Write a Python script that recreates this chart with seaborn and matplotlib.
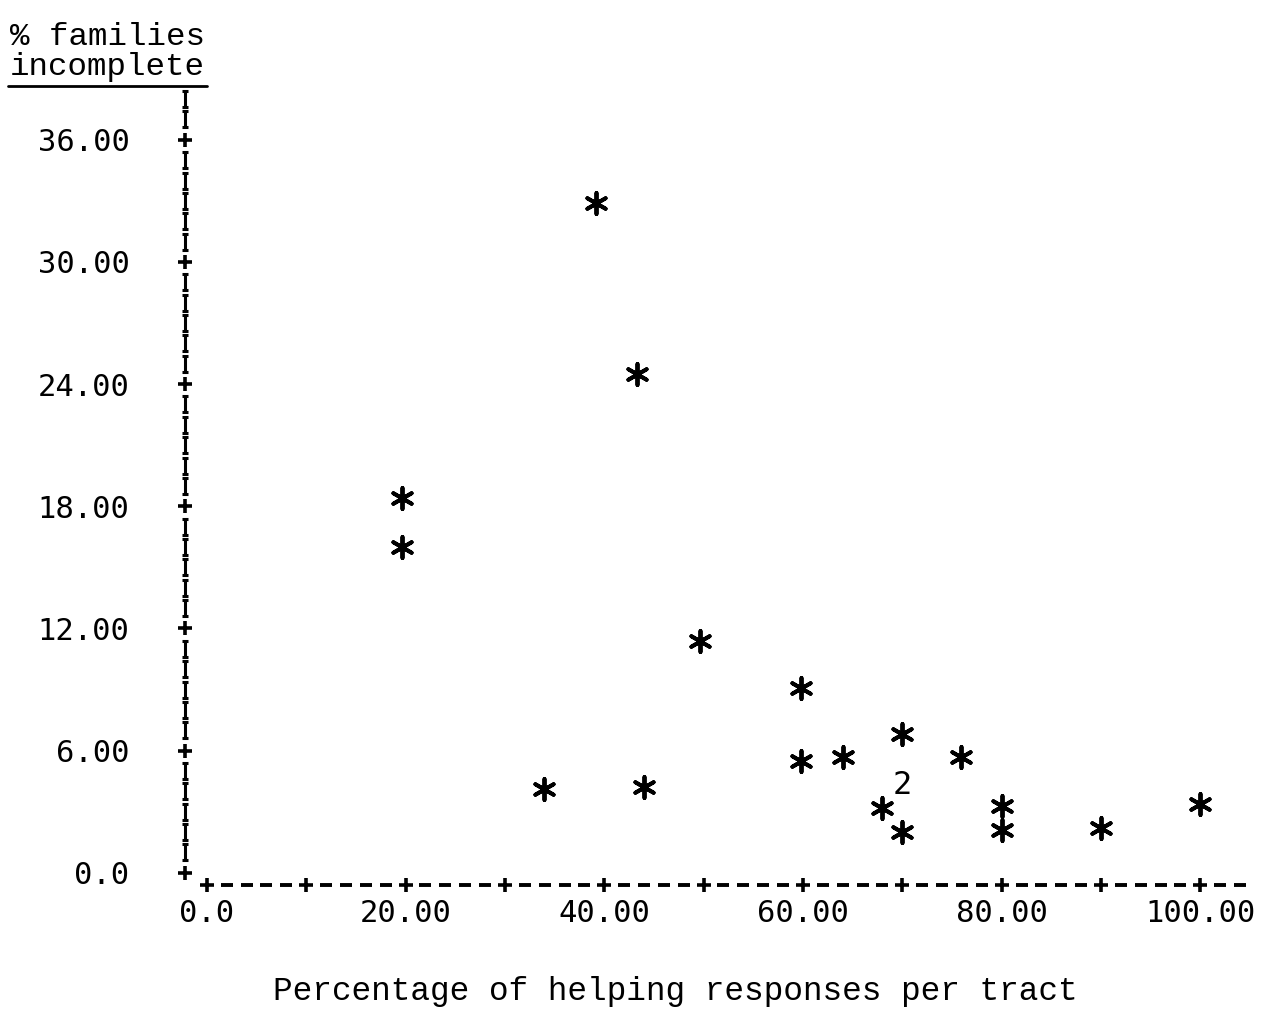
import matplotlib
matplotlib.use("Agg")
import matplotlib.pyplot as plt
import matplotlib.transforms as mtransforms
from matplotlib.lines import Line2D
from matplotlib.path import Path
import seaborn as sns
import pandas as pd

# ---- data ----
helping_pct = [39.2, 43.3, 19.6, 19.6, 49.6, 59.8, 59.8, 64.0, 70.0, 75.9,
               33.9, 44.0, 68.0, 70.0, 80.0, 80.0, 90.0, 100.0]
families_incomplete = [32.9, 24.5, 18.4, 16.0, 11.4, 9.1, 5.5, 5.7, 6.8, 5.7,
                       4.1, 4.2, 3.2, 2.0, 3.3, 2.1, 2.2, 3.4]
# coincident points printed as a digit
multi_x = [70.0]
multi_y = [4.3]
multi_n = [2]

x_ticks = [0, 20, 40, 60, 80, 100]
x_tick_labels = ["0.0", "20.00", "40.00", "60.00", "80.00", "100.00"]
y_ticks = [0, 6, 12, 18, 24, 30, 36]
y_tick_labels = ["0.0", "6.00", "12.00", "18.00", "24.00", "30.00", "36.00"]

df = pd.DataFrame({"x": helping_pct, "y": families_incomplete})

sns.set_theme(style="white")
plt.rcParams["font.family"] = ["DejaVu Sans Mono", "DejaVu Sans"]

fig = plt.figure(figsize=(12.62, 10.16), dpi=100)
ax = fig.add_axes([185 / 1262, 1 - 885 / 1016, (1250 - 185) / 1262, (885 - 95) / 1016])
ax.set_xlim(-2.2, 105.0)
ax.set_ylim(-0.6, 38.2)

sns.scatterplot(data=df, x="x", y="y", ax=ax, marker=(6, 2, 0), s=230,
                color="black", linewidth=2.8, legend=False, zorder=3)
for mx, my, mn in zip(multi_x, multi_y, multi_n):
    ax.text(mx, my, str(mn), ha="center", va="center", fontsize=23,
            family="DejaVu Sans Mono", color="black", zorder=3)

# typewriter-style axes
for s in ax.spines.values():
    s.set_visible(False)
ax.grid(False)
ax.tick_params(length=0)

# custom "I" glyph marker (serifed bar)
i_marker = Path(
    [(-0.42, 1.0), (0.42, 1.0), (0.0, 1.0), (0.0, -1.0), (-0.42, -1.0), (0.42, -1.0)],
    [Path.MOVETO, Path.LINETO, Path.MOVETO, Path.LINETO, Path.MOVETO, Path.LINETO],
)

ytrans = mtransforms.blended_transform_factory(ax.transAxes, ax.transData)
y_rows = list(range(0, 39))
y_plus = [v for v in y_rows if v % 6 == 0]
y_bars = [v for v in y_rows if v % 6 != 0]
ax.plot([0.0] * len(y_bars), y_bars, linestyle="none", marker=i_marker,
        markersize=11, markeredgewidth=2.2, color="black", transform=ytrans,
        clip_on=False)
ax.plot([0.0] * len(y_plus), y_plus, linestyle="none", marker="+",
        markersize=10, markeredgewidth=2.6, color="black", transform=ytrans,
        clip_on=False)

xtrans = mtransforms.blended_transform_factory(ax.transData, ax.transAxes)
x_cols = list(range(0, 105, 2))
x_plus = [v for v in x_cols if v % 10 == 0]
x_dash = [v for v in x_cols if v % 10 != 0]
ax.plot(x_dash, [0.0] * len(x_dash), linestyle="none", marker="_",
        markersize=8, markeredgewidth=2.8, color="black", transform=xtrans,
        clip_on=False)
ax.plot(x_plus, [0.0] * len(x_plus), linestyle="none", marker="+",
        markersize=10, markeredgewidth=2.6, color="black", transform=xtrans,
        clip_on=False)

ax.set_xticks(x_ticks)
ax.set_xticklabels(x_tick_labels, fontsize=22, family="DejaVu Sans Mono",
                   color="black")
ax.set_yticks(y_ticks)
ax.set_yticklabels(y_tick_labels, fontsize=22, family="DejaVu Sans Mono",
                   color="black")
ax.tick_params(axis="y", pad=40)
ax.tick_params(axis="x", pad=10)
ax.set_xlabel("")
ax.set_ylabel("")

# axis titles
fig.text(10 / 1262, 1 - 45 / 1016, "% families", fontsize=23.4,
         family="Liberation Mono", ha="left", va="baseline", color="black")
fig.text(10 / 1262, 1 - 75 / 1016, "incomplete", fontsize=23.4,
         family="Liberation Mono", ha="left", va="baseline", color="black")
fig.add_artist(Line2D([8 / 1262, 207 / 1262], [1 - 86 / 1016, 1 - 86 / 1016],
                      transform=fig.transFigure, color="black", linewidth=2))
fig.text(675 / 1262, 1 - 1000 / 1016, "Percentage of helping responses per tract",
         fontsize=23.6, family="Liberation Mono", ha="center", va="baseline",
         color="black")

fig.savefig("out.png", dpi=100, facecolor="white")
